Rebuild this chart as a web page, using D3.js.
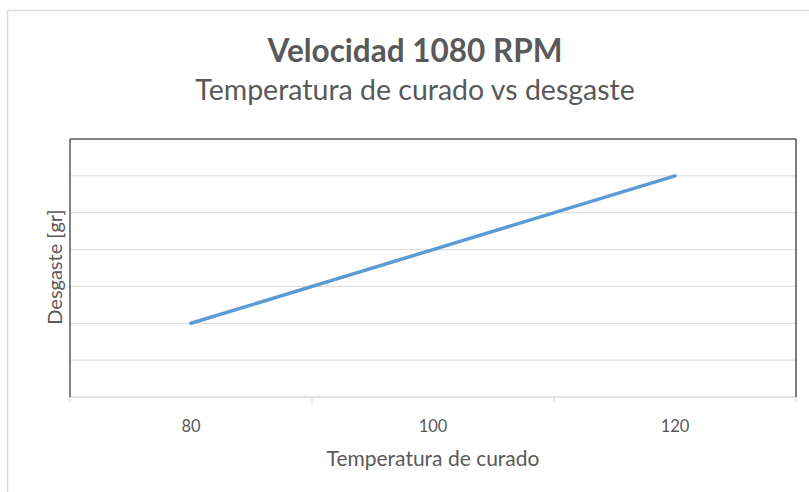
<!DOCTYPE html>
<html>
<head>
<meta charset="utf-8">
<script src="https://cdn.jsdelivr.net/npm/d3@7"></script>
<style>
  html, body { margin: 0; padding: 0; background: #fff; }
  svg { display: block; }
  text { font-family: Lato, "Open Sans", sans-serif; fill: #595959; }
</style>
</head>
<body>
<svg id="chart" width="809" height="492"></svg>
<script>
const categories = ["80", "100", "120"];
const desgaste = [2, 4, 6];
const yDomain = [0, 7];
const yGridValues = [1, 2, 3, 4, 5, 6];
const titleText = "Velocidad 1080 RPM";
const subtitleText = "Temperatura de curado vs desgaste";
const xTitle = "Temperatura de curado";
const yTitle = "Desgaste [gr]";

const svg = d3.select("#chart");
const W = 809, H = 492;
const m = { left: 70, right: 13, top: 139, bottom: 95 };

// outer frame
svg.append("rect")
  .attr("x", 7.5).attr("y", 10.5)
  .attr("width", W + 20).attr("height", H + 20)
  .attr("fill", "#fff").attr("stroke", "#d9d9d9").attr("stroke-width", 1.5);

const x = d3.scaleBand().domain(categories).range([m.left, W - m.right]).padding(0);
const y = d3.scaleLinear().domain(yDomain).range([H - m.bottom, m.top]);

// gridlines
svg.append("g")
  .selectAll("line").data(yGridValues).join("line")
  .attr("x1", m.left).attr("x2", W - m.right)
  .attr("y1", d => y(d)).attr("y2", d => y(d))
  .attr("stroke", "#d9d9d9").attr("stroke-width", 1);

// x axis
const xAxisG = svg.append("g")
  .attr("transform", `translate(0,${y(yDomain[0])})`);
xAxisG.append("line")
  .attr("x1", m.left).attr("x2", W - m.right)
  .attr("stroke", "#d9d9d9").attr("stroke-width", 1.5);
const tickPos = categories.map(c => x(c)).concat([x(categories[categories.length - 1]) + x.bandwidth()]);
xAxisG.selectAll("line.tick").data(tickPos).join("line")
  .attr("class", "tick")
  .attr("x1", d => d).attr("x2", d => d)
  .attr("y1", 0).attr("y2", 6)
  .attr("stroke", "#d9d9d9").attr("stroke-width", 1);
xAxisG.selectAll("text").data(categories).join("text")
  .attr("x", d => x(d) + x.bandwidth() / 2)
  .attr("y", 35)
  .attr("text-anchor", "middle")
  .attr("font-size", 16.5)
  .text(d => d);

// plot border: left, top, right
svg.append("line")
  .attr("x1", m.left).attr("x2", m.left)
  .attr("y1", m.top).attr("y2", y(yDomain[0]))
  .attr("stroke", "#595959").attr("stroke-width", 1.5);
svg.append("line")
  .attr("x1", m.left).attr("x2", W - m.right)
  .attr("y1", m.top).attr("y2", m.top)
  .attr("stroke", "#595959").attr("stroke-width", 1.5);
svg.append("line")
  .attr("x1", W - m.right).attr("x2", W - m.right)
  .attr("y1", m.top).attr("y2", y(yDomain[0]))
  .attr("stroke", "#222").attr("stroke-width", 1.2);

// series line
const line = d3.line()
  .x((d, i) => x(categories[i]) + x.bandwidth() / 2)
  .y(d => y(d));
svg.append("path")
  .datum(desgaste)
  .attr("d", line)
  .attr("fill", "none")
  .attr("stroke", "#5b9bd5")
  .attr("stroke-width", 3.5)
  .attr("stroke-linecap", "round");

// titles
svg.append("text")
  .attr("x", 415).attr("y", 62)
  .attr("text-anchor", "middle")
  .attr("font-size", 31.5).attr("font-weight", "bold")
  .text(titleText);
svg.append("text")
  .attr("x", 415).attr("y", 100)
  .attr("text-anchor", "middle")
  .attr("font-size", 28.5)
  .text(subtitleText);
svg.append("text")
  .attr("x", 433).attr("y", 466)
  .attr("text-anchor", "middle")
  .attr("font-size", 21)
  .text(xTitle);
svg.append("text")
  .attr("transform", `translate(62,267) rotate(-90)`)
  .attr("text-anchor", "middle")
  .attr("font-size", 20)
  .text(yTitle);
</script>
</body>
</html>
